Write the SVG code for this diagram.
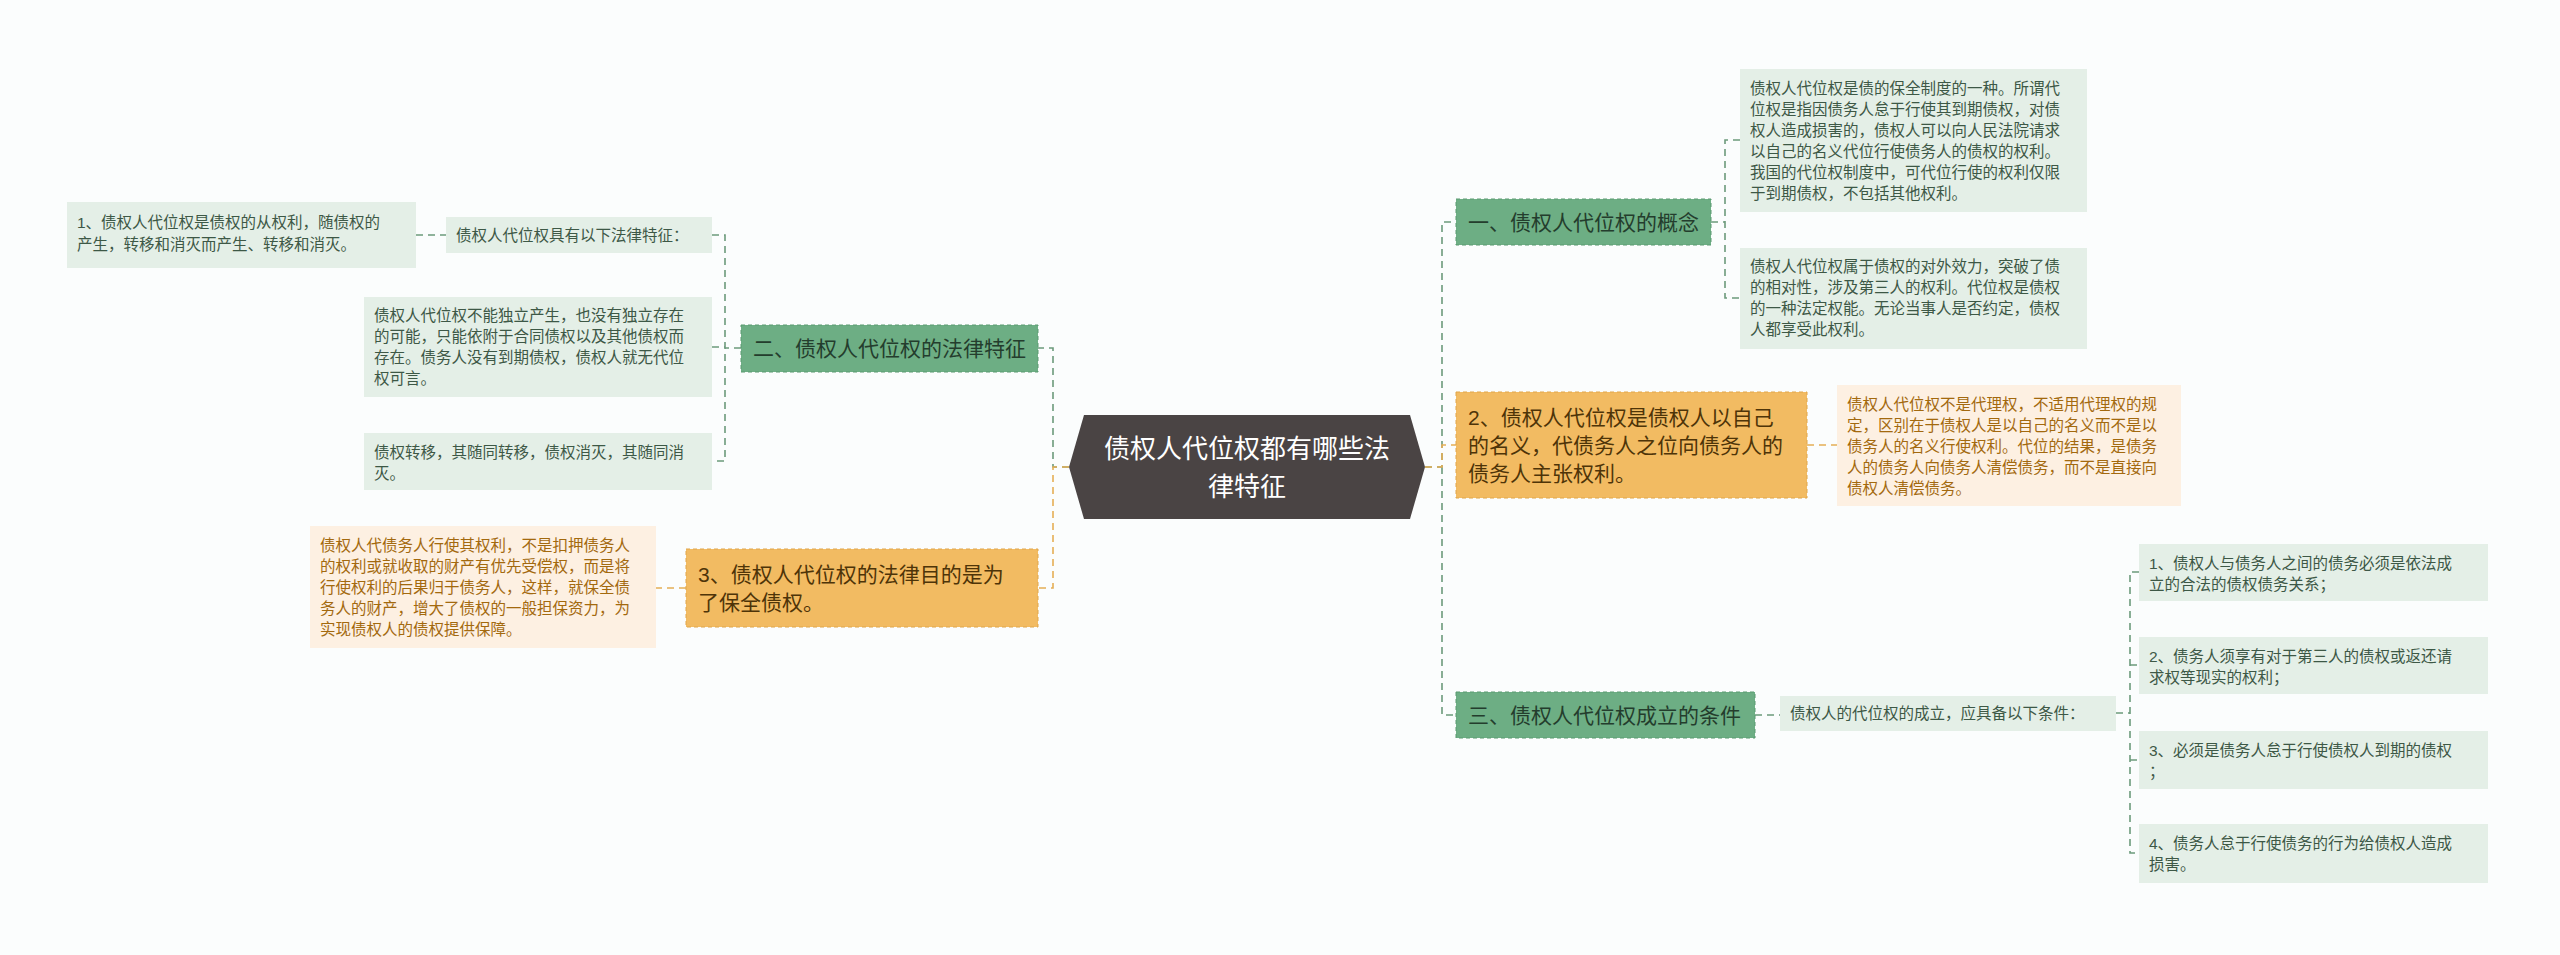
<svg xmlns="http://www.w3.org/2000/svg" width="2560" height="955" viewBox="0 0 2560 955">
<style>
text{font-family:"Liberation Sans","Noto Sans CJK SC",sans-serif}
.g{fill:#6dae84;stroke:#5a9a70;stroke-dasharray:4 3}
.o{fill:#f2bb62;stroke:#e0a64a;stroke-dasharray:4 3}
.t{fill:#e4efe7}
.ot{fill:#fdf0e2}
.gt{font-size:21px;fill:#243d2d}
.ott{font-size:21px;fill:#4e3408}
.tt{font-size:15.5px;fill:#3d5846}
.otx{font-size:15.5px;fill:#a3690e}
.cg{fill:none;stroke:#6c9a7b;stroke-width:1.6;stroke-dasharray:7 5}
.co{fill:none;stroke:#e5ae55;stroke-width:1.6;stroke-dasharray:7 5}
</style>
<rect width="2560" height="955" fill="#fbfdfd"/>
<g id="connectors">
<path class="cg" d="M1069,467 H1053 V348 H741"/>
<path class="co" d="M1069,467 H1053 V588 H1038"/>
<path class="cg" d="M1425,467 H1442 V222 H1456 M1442,467 V715 H1456"/>
<path class="co" d="M1425,467 H1442 V445 H1456"/>
<path class="cg" d="M1711,222 H1725 M1740,140 H1725 V298 H1740"/>
<path class="co" d="M1807,445 H1837"/>
<path class="cg" d="M741,348 H725 M712,235 H725 V461 H712 M712,347 H725"/>
<path class="cg" d="M416,235 H446"/>
<path class="co" d="M686,588 H656"/>
<path class="cg" d="M1755,715 H1780 M2116,713 H2130 M2139,572 H2130 V853 H2139 M2130,665 H2139 M2130,760 H2139"/>
</g>
<g id="center">
<polygon points="1069,467 1084,415 1410,415 1425,467 1410,519 1084,519" fill="#4a4444"/>
<text x="1247" y="458" font-size="26" fill="#fff" text-anchor="middle">债权人代位权都有哪些法</text>
<text x="1247" y="496" font-size="26" fill="#fff" text-anchor="middle">律特征</text>
</g>
<g id="n1">
<rect class="g" x="1456" y="199" width="255" height="46"/>
<text class="gt" x="1468" y="230">一、债权人代位权的概念</text>
</g>
<g id="n1a">
<rect class="t" x="1740" y="69" width="347" height="143"/>
<text class="tt" x="1750" y="94">债权人代位权是债的保全制度的一种。所谓代</text>
<text class="tt" x="1750" y="115">位权是指因债务人怠于行使其到期债权，对债</text>
<text class="tt" x="1750" y="136">权人造成损害的，债权人可以向人民法院请求</text>
<text class="tt" x="1750" y="157">以自己的名义代位行使债务人的债权的权利。</text>
<text class="tt" x="1750" y="178">我国的代位权制度中，可代位行使的权利仅限</text>
<text class="tt" x="1750" y="199">于到期债权，不包括其他权利。</text>
</g>
<g id="n1b">
<rect class="t" x="1740" y="248" width="347" height="101"/>
<text class="tt" x="1750" y="272">债权人代位权属于债权的对外效力，突破了债</text>
<text class="tt" x="1750" y="293">的相对性，涉及第三人的权利。代位权是债权</text>
<text class="tt" x="1750" y="314">的一种法定权能。无论当事人是否约定，债权</text>
<text class="tt" x="1750" y="335">人都享受此权利。</text>
</g>
<g id="n2">
<rect class="o" x="1456" y="392" width="351" height="106"/>
<text class="ott" x="1468" y="425">2、债权人代位权是债权人以自己</text>
<text class="ott" x="1468" y="453">的名义，代债务人之位向债务人的</text>
<text class="ott" x="1468" y="481">债务人主张权利。</text>
</g>
<g id="n2a">
<rect class="ot" x="1837" y="385" width="344" height="121"/>
<text class="otx" x="1847" y="410">债权人代位权不是代理权，不适用代理权的规</text>
<text class="otx" x="1847" y="431">定，区别在于债权人是以自己的名义而不是以</text>
<text class="otx" x="1847" y="452">债务人的名义行使权利。代位的结果，是债务</text>
<text class="otx" x="1847" y="473">人的债务人向债务人清偿债务，而不是直接向</text>
<text class="otx" x="1847" y="494">债权人清偿债务。</text>
</g>
<g id="n3">
<rect class="g" x="1456" y="692" width="299" height="46"/>
<text class="gt" x="1468" y="723">三、债权人代位权成立的条件</text>
</g>
<g id="n3a">
<rect class="t" x="1780" y="696" width="336" height="35"/>
<text class="tt" x="1790" y="719">债权人的代位权的成立，应具备以下条件：</text>
</g>
<g id="n3b">
<rect class="t" x="2139" y="544" width="349" height="57"/>
<text class="tt" x="2149" y="569">1、债权人与债务人之间的债务必须是依法成</text>
<text class="tt" x="2149" y="590">立的合法的债权债务关系；</text>
</g>
<g id="n3c">
<rect class="t" x="2139" y="637" width="349" height="57"/>
<text class="tt" x="2149" y="662">2、债务人须享有对于第三人的债权或返还请</text>
<text class="tt" x="2149" y="683">求权等现实的权利；</text>
</g>
<g id="n3d">
<rect class="t" x="2139" y="731" width="349" height="58"/>
<text class="tt" x="2149" y="756">3、必须是债务人怠于行使债权人到期的债权</text>
<text class="tt" x="2149" y="777">；</text>
</g>
<g id="n3e">
<rect class="t" x="2139" y="824" width="349" height="59"/>
<text class="tt" x="2149" y="849">4、债务人怠于行使债务的行为给债权人造成</text>
<text class="tt" x="2149" y="870">损害。</text>
</g>
<g id="l2">
<rect class="g" x="741" y="325" width="297" height="47"/>
<text class="gt" x="753" y="356">二、债权人代位权的法律特征</text>
</g>
<g id="l2a">
<rect class="t" x="446" y="217" width="266" height="36"/>
<text class="tt" x="456" y="241">债权人代位权具有以下法律特征：</text>
</g>
<g id="l2a1">
<rect class="t" x="67" y="202" width="349" height="66"/>
<text class="tt" x="77" y="228">1、债权人代位权是债权的从权利，随债权的</text>
<text class="tt" x="77" y="250">产生，转移和消灭而产生、转移和消灭。</text>
</g>
<g id="l2b">
<rect class="t" x="364" y="297" width="348" height="100"/>
<text class="tt" x="374" y="321">债权人代位权不能独立产生，也没有独立存在</text>
<text class="tt" x="374" y="342">的可能，只能依附于合同债权以及其他债权而</text>
<text class="tt" x="374" y="363">存在。债务人没有到期债权，债权人就无代位</text>
<text class="tt" x="374" y="384">权可言。</text>
</g>
<g id="l2c">
<rect class="t" x="364" y="433" width="348" height="57"/>
<text class="tt" x="374" y="458">债权转移，其随同转移，债权消灭，其随同消</text>
<text class="tt" x="374" y="479">灭。</text>
</g>
<g id="l3">
<rect class="o" x="686" y="549" width="352" height="78"/>
<text class="ott" x="698" y="582">3、债权人代位权的法律目的是为</text>
<text class="ott" x="698" y="610">了保全债权。</text>
</g>
<g id="l3a">
<rect class="ot" x="310" y="526" width="346" height="122"/>
<text class="otx" x="320" y="551">债权人代债务人行使其权利，不是扣押债务人</text>
<text class="otx" x="320" y="572">的权利或就收取的财产有优先受偿权，而是将</text>
<text class="otx" x="320" y="593">行使权利的后果归于债务人，这样，就保全债</text>
<text class="otx" x="320" y="614">务人的财产，增大了债权的一般担保资力，为</text>
<text class="otx" x="320" y="635">实现债权人的债权提供保障。</text>
</g>
</svg>
